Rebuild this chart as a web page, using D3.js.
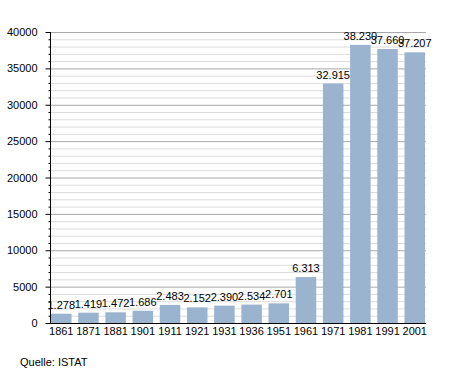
<!DOCTYPE html>
<html><head><meta charset="utf-8">
<script src="https://cdn.jsdelivr.net/npm/d3@7"></script>
<style>body{margin:0;background:#fff}svg{display:block;font-family:"Liberation Sans",Arial,sans-serif}</style>
</head><body><svg id="c" width="455" height="373"></svg>
<script>
const years = ["1861","1871","1881","1901","1911","1921","1931","1936","1951","1961","1971","1981","1991","2001"];
const population = [1278,1419,1472,1686,2483,2152,2390,2534,2701,6313,32915,38230,37660,37207];
const yTicks = [0,5000,10000,15000,20000,25000,30000,35000,40000];
const source = "Quelle: ISTAT";

const svg = d3.select("#c");
const x0 = 50, x1 = 426, yTop = 32, yBot = 323;
const x = d3.scaleBand().domain(years).range([51, 425]).paddingInner(0.246).paddingOuter(0);
const y = d3.scaleLinear().domain([0, 40000]).range([yBot, yTop]);
const minor = d3.range(0, 40001, 1000);

// minor grid
svg.append("g").selectAll("line").data(minor.filter(v => v % 5000 !== 0)).join("line")
  .attr("x1", x0).attr("x2", x1).attr("y1", d => y(d)+0.5).attr("y2", d => y(d)+0.5)
  .attr("stroke", "#dcdcdc").attr("stroke-width", 1);
// major grid
svg.append("g").selectAll("line").data(yTicks.filter(v => v > 0)).join("line")
  .attr("x1", x0).attr("x2", x1).attr("y1", d => y(d)+0.5).attr("y2", d => y(d)+0.5)
  .attr("stroke", "#a8a8a8").attr("stroke-width", 1);

// bars
svg.append("g").selectAll("rect").data(population).join("rect")
  .attr("x", (d, i) => x(years[i])).attr("width", x.bandwidth())
  .attr("y", d => y(d)).attr("height", d => yBot - y(d))
  .attr("fill", "#9ab3cf");

// value labels
const fmt = d3.formatLocale({decimal: ",", thousands: ".", grouping: [3], currency: ["", ""]}).format(",d");
svg.append("g").selectAll("text").data(population).join("text")
  .attr("x", (d, i) => x(years[i]) + x.bandwidth()/2).attr("y", d => y(d) - 5)
  .attr("text-anchor", "middle").attr("font-size", 11).attr("fill", "#000")
  .text(d => fmt(d));

// y axis
const yAxis = d3.axisLeft(y).tickValues(yTicks).tickSize(5).tickPadding(8).tickFormat(d3.format("d"));
const ga = svg.append("g").attr("transform", `translate(${x0+0.5},0)`).call(yAxis);
ga.select(".domain").attr("stroke", "#000").attr("d", `M0,${yTop}V${yBot}`);
ga.selectAll("text").attr("font-size", 11).attr("font-family", "Liberation Sans, Arial, sans-serif");
const gm = svg.append("g").attr("transform", `translate(${x0+0.5},0)`)
  .call(d3.axisLeft(y).tickValues(minor.filter(v => v % 5000 !== 0)).tickSize(2).tickFormat(""));
gm.select(".domain").remove();

// x axis
const xAxis = d3.axisBottom(x).tickSize(0).tickPadding(4);
const gx = svg.append("g").attr("transform", `translate(0,${yBot+0.5})`).call(xAxis);
gx.select(".domain").attr("stroke", "#000").attr("d", `M${x0},0H${x1}`);
gx.selectAll("text").attr("font-size", 11).attr("font-family", "Liberation Sans, Arial, sans-serif");

svg.append("text").attr("x", 20).attr("y", 366).attr("font-size", 11).text(source);
</script></body></html>
